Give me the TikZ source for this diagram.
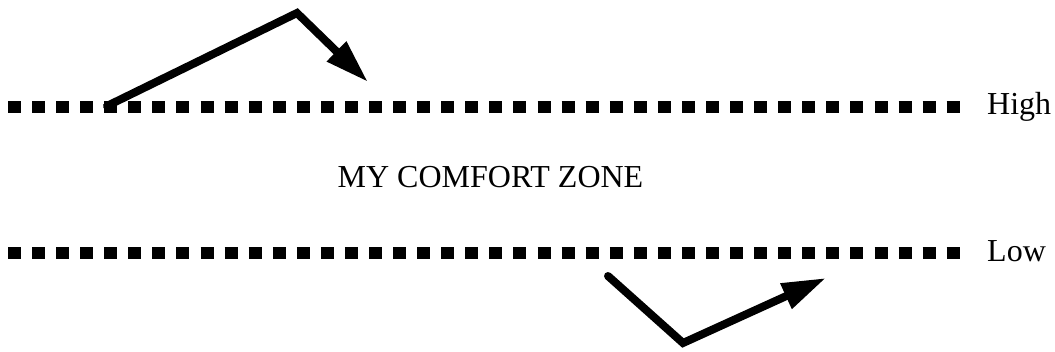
\documentclass[tikz,border=0pt]{standalone}
\usepackage{fontspec}
\setmainfont{Liberation Serif}
\usetikzlibrary{arrows.meta}
\begin{document}
\begin{tikzpicture}[x=1pt,y=-1pt,
  dotline/.style={line width=12pt,dash pattern=on 13pt off 11.07pt,line cap=butt},
  bentarrow/.style={line width=8pt,line join=miter,line cap=round,
    -{Triangle[length=44pt,width=26pt]}},
  lbl/.style={inner sep=0pt,font=\fontsize{32}{38}\selectfont}]
\useasboundingbox (0,0) rectangle (1055,352);
\coordinate (h1) at (8,107.5);
\coordinate (h2) at (960,107.5);
\coordinate (l1) at (8,253.5);
\coordinate (l2) at (960,253.5);
\draw[dotline] (h1) -- (h2);
\draw[dotline] (l1) -- (l2);
\node[lbl,anchor=base west] (high) at (987,115) {High};
\node[lbl,anchor=base west] (low) at (987,262) {Low};
\node[lbl,anchor=base] (zone) at (490.5,188) {MY COMFORT ZONE};
\coordinate (a1) at (107,106);
\coordinate (a2) at (297,13);
\coordinate (a3) at (368,82);
\draw[bentarrow] (a1) -- (a2) -- (a3);
\coordinate (b1) at (608,276);
\coordinate (b2) at (683,343);
\coordinate (b3) at (826,278);
\draw[bentarrow] (b1) -- (b2) -- (b3);
\end{tikzpicture}
\end{document}
